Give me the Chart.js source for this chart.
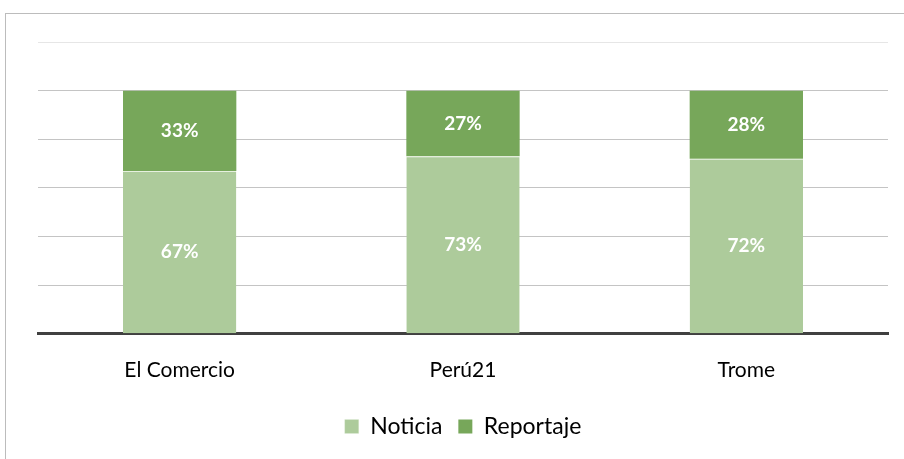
<!DOCTYPE html>
<html>
<head>
<meta charset="utf-8">
<script src="https://cdn.jsdelivr.net/npm/chart.js@4/dist/chart.umd.min.js"></script>
<style>
  html, body { margin: 0; padding: 0; background: #ffffff; }
  #wrap { position: relative; width: 904px; height: 459px; }
  #frame { position: absolute; left: 5px; top: 13px; width: 905px; height: 460px; border-left: 1px solid #bcbcbc; border-top: 1px solid #bcbcbc; box-sizing: border-box; }
  canvas { position: absolute; left: 0; top: 0; }
</style>
</head>
<body>
<div id="wrap">
  <div id="frame"></div>
  <canvas id="c" width="904" height="459"></canvas>
</div>
<script>
const categories = ["El Comercio", "Perú21", "Trome"];
const noticia = [67, 73, 72];
const reportaje = [33, 27, 28];
const seriesNames = ["Noticia", "Reportaje"];

const valueLabels = {
  id: 'valueLabels',
  afterDatasetsDraw(chart) {
    const ctx = chart.ctx;
    ctx.save();
    ctx.fillStyle = '#ffffff';
    ctx.font = 'bold 19px Lato, sans-serif';
    ctx.textAlign = 'center';
    ctx.textBaseline = 'middle';
    chart.data.datasets.forEach((ds, i) => {
      const meta = chart.getDatasetMeta(i);
      meta.data.forEach((bar, j) => {
        const mid = (bar.y + bar.base) / 2;
        ctx.fillText(ds.data[j] + '%', bar.x, mid);
      });
    });
    ctx.restore();
  }
};

new Chart(document.getElementById('c'), {
  type: 'bar',
  data: {
    labels: categories,
    datasets: [
      { label: seriesNames[0], data: noticia, backgroundColor: '#adcb9b', borderColor: '#e6f0df', borderWidth: {top: 1, left: 0, right: 0, bottom: 0}, borderSkipped: false, categoryPercentage: 1, barPercentage: 0.4 },
      { label: seriesNames[1], data: reportaje, backgroundColor: '#77a75a', borderColor: '#77a75a', borderWidth: 0, categoryPercentage: 1, barPercentage: 0.4 }
    ]
  },
  options: {
    responsive: false,
    animation: false,
    devicePixelRatio: 1,
    layout: { padding: { left: 38, right: 16, top: 42, bottom: 11 } },
    plugins: {
      legend: {
        position: 'bottom',
        labels: {
          boxWidth: 14, boxHeight: 14, padding: 16,
          color: '#000000',
          font: { family: 'Lato, sans-serif', size: 23 }
        }
      },
      tooltip: { enabled: false }
    },
    scales: {
      x: {
        stacked: true,
        grid: { display: false },
        border: { display: true, color: '#404040', width: 3 },
        ticks: { color: '#000000', font: { family: 'Lato, sans-serif', size: 21 }, padding: 16 }
      },
      y: {
        stacked: true,
        min: 0, max: 120,
        ticks: { display: false, stepSize: 20 },
        border: { display: false },
        grid: {
          color: (c) => c.tick && c.tick.value === 120 ? '#e6e6e6' : '#c4c4c4',
          lineWidth: 1,
          drawTicks: false
        }
      }
    }
  },
  plugins: [valueLabels]
});
</script>
</body>
</html>
